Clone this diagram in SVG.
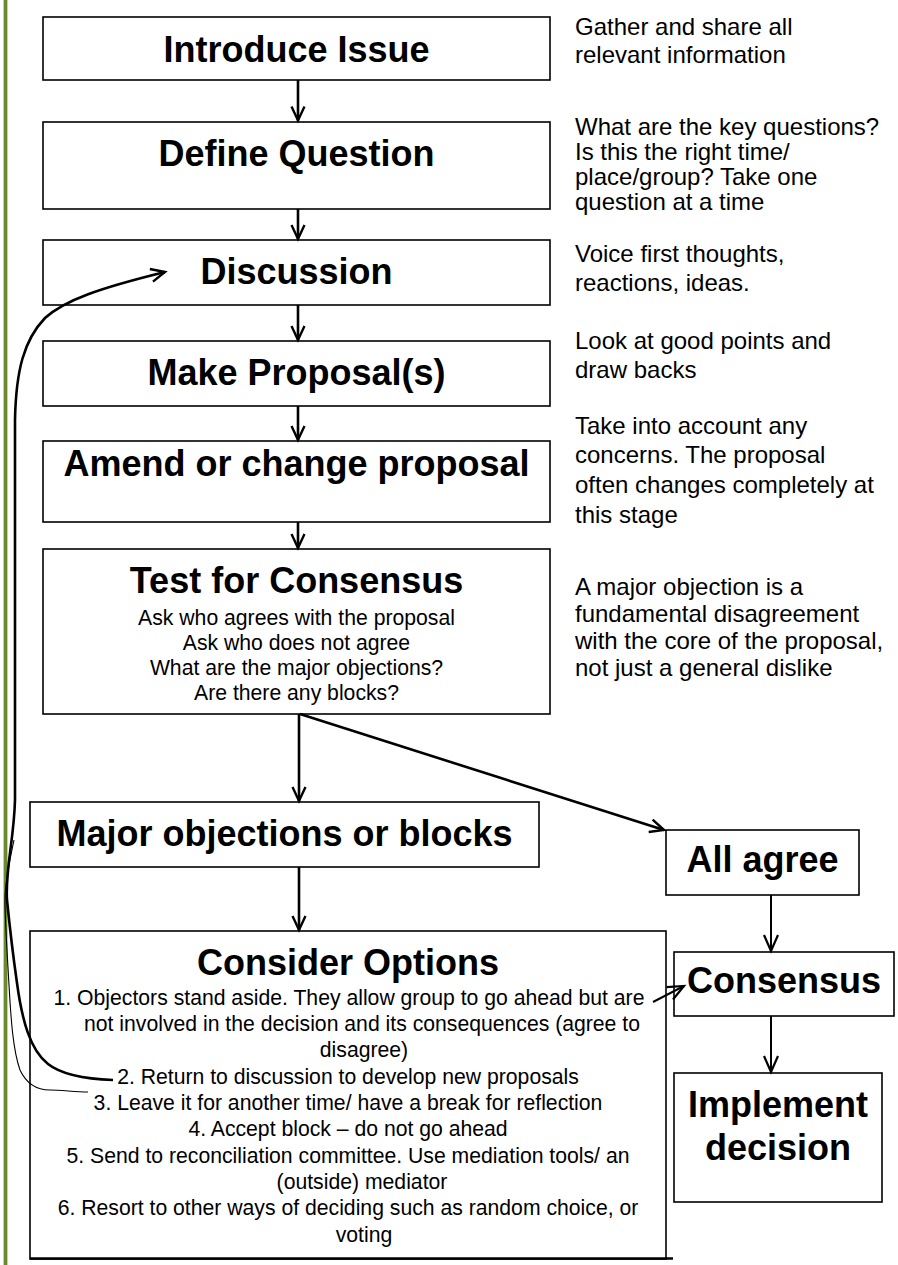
<svg xmlns="http://www.w3.org/2000/svg" width="898" height="1265" viewBox="0 0 898 1265">
<style>
  .box { fill: #ffffff; stroke: #000000; stroke-width: 1.6; }
  .title { font-family: "Liberation Sans", Arial, Helvetica, sans-serif; font-weight: bold; font-size: 36px; fill: #000; text-anchor: middle; }
  .body { font-family: "Liberation Sans", Arial, Helvetica, sans-serif; font-size: 21.2px; fill: #000; text-anchor: middle; }
  .note { font-family: "Liberation Sans", Arial, Helvetica, sans-serif; font-size: 24px; fill: #000; }
  .arrow { stroke: #000; fill: none; stroke-width: 2.6; marker-end: url(#open); }
  .arrowthin { stroke: #000; fill: none; stroke-width: 2; marker-end: url(#open2); }
</style>
<defs>
  <marker id="open" markerUnits="userSpaceOnUse" orient="auto" refX="0" refY="0" markerWidth="20" markerHeight="20" overflow="visible">
    <path d="M -14,-6.5 L 0,0 L -14,6.5" fill="none" stroke="#000" stroke-width="2.4"/>
  </marker>
  <marker id="open2" markerUnits="userSpaceOnUse" orient="auto" refX="0" refY="0" markerWidth="20" markerHeight="20" overflow="visible">
    <path d="M -16,-7 L 0,0 L -16,7" fill="none" stroke="#000" stroke-width="2.2"/>
  </marker>
</defs>
<rect width="898" height="1265" fill="#ffffff"/>
<g id="margin-line">
  <rect x="3" y="0" width="5" height="1265" fill="#c3d1a6"/>
  <rect x="4" y="0" width="3" height="1265" fill="#6c8a2c"/>
</g>

<g id="introduce">
  <rect class="box" x="43" y="17" width="507" height="63"/>
  <text class="title" x="296.5" y="62">Introduce Issue</text>
</g>
<g id="define">
  <rect class="box" x="43" y="122" width="507" height="87"/>
  <text class="title" x="296.5" y="166">Define Question</text>
</g>
<g id="discussion">
  <rect class="box" x="43" y="240" width="507" height="65"/>
  <text class="title" x="296.5" y="284">Discussion</text>
</g>
<g id="make">
  <rect class="box" x="43" y="341" width="507" height="65"/>
  <text class="title" x="296.5" y="385">Make Proposal(s)</text>
</g>
<g id="amend">
  <rect class="box" x="43" y="441" width="507" height="81"/>
  <text class="title" x="296.5" y="476">Amend or change proposal</text>
</g>
<g id="test">
  <rect class="box" x="43" y="549" width="507" height="165"/>
  <text class="title" x="296.5" y="593">Test for Consensus</text>
  <text class="body" x="296.5" y="625">Ask who agrees with the proposal</text>
  <text class="body" x="296.5" y="650">Ask who does not agree</text>
  <text class="body" x="296.5" y="675">What are the major objections?</text>
  <text class="body" x="296.5" y="700">Are there any blocks?</text>
</g>
<g id="major">
  <rect class="box" x="30" y="802" width="509" height="65"/>
  <text class="title" x="284.5" y="846">Major objections or blocks</text>
</g>
<g id="consider">
  <rect class="box" x="30" y="931" width="636" height="328"/>
  <line x1="30" y1="1258.5" x2="673" y2="1258.5" stroke="#000" stroke-width="2.6"/>
  <text class="title" x="348" y="975">Consider Options</text>
  <text class="body" x="349" y="1005">1.  Objectors stand aside. They allow group to go ahead but are</text>
  <text class="body" x="362" y="1031">not involved in the decision and its consequences (agree to</text>
  <text class="body" x="364" y="1057">disagree)</text>
  <text class="body" x="348" y="1084">2.  Return to discussion to develop new proposals</text>
  <text class="body" x="348" y="1110">3.  Leave it for another time/ have a break for reflection</text>
  <text class="body" x="348" y="1136">4.  Accept block – do not go ahead</text>
  <text class="body" x="348" y="1163">5.  Send to reconciliation committee. Use mediation tools/ an</text>
  <text class="body" x="362" y="1189">(outside) mediator</text>
  <text class="body" x="348" y="1215">6.  Resort to other ways of deciding such as random choice, or</text>
  <text class="body" x="364" y="1242">voting</text>
</g>
<g id="allagree">
  <rect class="box" x="666" y="830" width="193" height="65"/>
  <text class="title" x="762.5" y="872">All agree</text>
</g>
<g id="consensus">
  <rect class="box" x="674" y="952" width="220" height="64"/>
  <text class="title" x="784" y="993">Consensus</text>
</g>
<g id="implement">
  <rect class="box" x="674" y="1073" width="208" height="129"/>
  <text class="title" x="778" y="1117">Implement</text>
  <text class="title" x="778" y="1160">decision</text>
</g>

<g id="notes">
  <text class="note" x="575" y="35">Gather and share all</text>
  <text class="note" x="575" y="63">relevant information</text>
  <text class="note" x="575" y="135">What are the key questions?</text>
  <text class="note" x="575" y="160">Is this the right time/</text>
  <text class="note" x="575" y="185">place/group? Take one</text>
  <text class="note" x="575" y="210">question at a time</text>
  <text class="note" x="575" y="262">Voice first thoughts,</text>
  <text class="note" x="575" y="291">reactions, ideas.</text>
  <text class="note" x="575" y="349">Look at good points and</text>
  <text class="note" x="575" y="378">draw backs</text>
  <text class="note" x="575" y="434">Take into account any</text>
  <text class="note" x="575" y="463">concerns. The proposal</text>
  <text class="note" x="575" y="493">often changes completely at</text>
  <text class="note" x="575" y="523">this stage</text>
  <text class="note" x="575" y="595">A major objection is a</text>
  <text class="note" x="575" y="622">fundamental disagreement</text>
  <text class="note" x="575" y="649">with the core of the proposal,</text>
  <text class="note" x="575" y="676">not just a general dislike</text>
</g>

<g id="connectors">
  <line class="arrow" x1="298" y1="80" x2="298" y2="120.5"/>
  <line class="arrow" x1="298" y1="209" x2="298" y2="239"/>
  <line class="arrow" x1="298" y1="305" x2="298" y2="340"/>
  <line class="arrow" x1="298" y1="406" x2="298" y2="440"/>
  <line class="arrow" x1="298" y1="522" x2="298" y2="548"/>
  <line class="arrow" x1="299" y1="714" x2="299" y2="801"/>
  <line class="arrow" x1="299" y1="867" x2="299" y2="930"/>
  <line class="arrow" x1="300" y1="714" x2="664" y2="830"/>
  <line class="arrowthin" x1="771" y1="895" x2="771" y2="951"/>
  <line class="arrowthin" x1="771" y1="1016" x2="771" y2="1072"/>
  <line class="arrowthin" x1="653" y1="1002" x2="684" y2="986"/>
  <path class="arrow" stroke-width="2.4" d="M 113,1080 C 85,1079 62,1075 48,1064 C 30,1050 22,1020 17,983 C 13,955 9,920 7,900 C 5,870 14,840 15,800 L 15,420 C 16,370 24,340 45,318 C 65,300 100,288 165,272"/>
  <path fill="none" stroke="#000" stroke-width="1.1" d="M 88,1092 C 75,1092 62,1090 50,1090 C 38,1090 27,1085 20,1070 C 13,1050 11,1020 9,985 C 7,950 5,920 5,900 C 5,880 10,860 14,840"/>
</g>
</svg>
